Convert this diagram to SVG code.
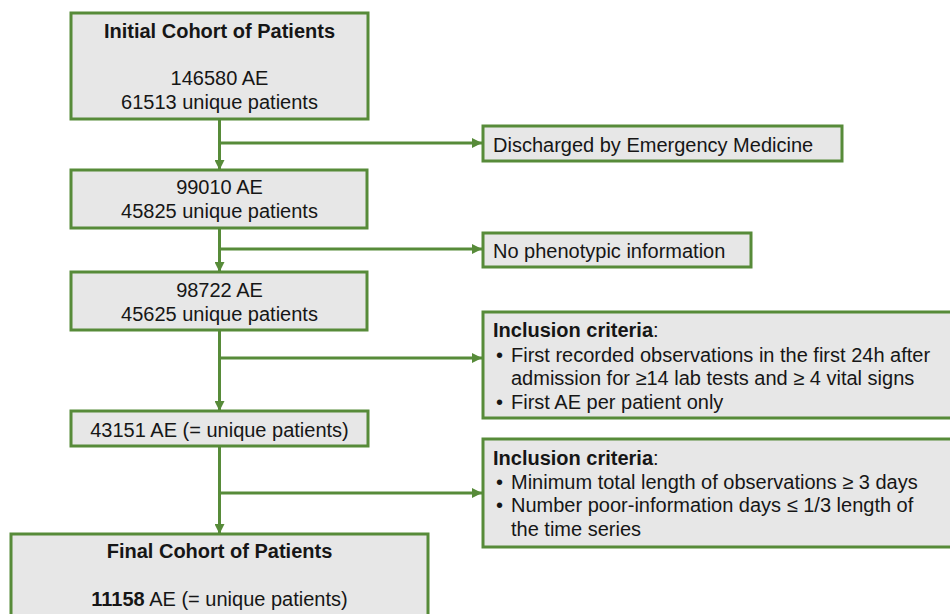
<svg xmlns="http://www.w3.org/2000/svg" width="950" height="614" viewBox="0 0 950 614">
<defs>
<style>
.box{fill:#e7e7e7;stroke:#578b39;stroke-width:3}
.ln{fill:none;stroke:#578b39;stroke-width:3}
text{font-family:"Liberation Sans",Arial,Helvetica,sans-serif;font-size:20px;fill:#161616}
.c{text-anchor:middle}
.b{font-weight:bold}
</style>
<marker id="ah" viewBox="0 0 10 10" refX="10" refY="5" markerWidth="10" markerHeight="10" markerUnits="userSpaceOnUse" orient="auto">
<path d="M0,0 L10,5 L0,10 z" fill="#578b39"/>
</marker>
</defs>
<rect width="950" height="614" fill="#ffffff"/>
<g id="connectors">
<line class="ln" x1="219.5" y1="119" x2="219.5" y2="170" marker-end="url(#ah)"/>
<line class="ln" x1="219.5" y1="143" x2="482" y2="143" marker-end="url(#ah)"/>
<line class="ln" x1="219.5" y1="228" x2="219.5" y2="272" marker-end="url(#ah)"/>
<line class="ln" x1="219.5" y1="249" x2="482" y2="249" marker-end="url(#ah)"/>
<line class="ln" x1="219.5" y1="330" x2="219.5" y2="411" marker-end="url(#ah)"/>
<line class="ln" x1="219.5" y1="358" x2="482" y2="358" marker-end="url(#ah)"/>
<line class="ln" x1="219.5" y1="446" x2="219.5" y2="534" marker-end="url(#ah)"/>
<line class="ln" x1="219.5" y1="493" x2="482" y2="493" marker-end="url(#ah)"/>
</g>
<g id="initial">
<rect class="box" x="71" y="13" width="297" height="106"/>
<text class="c b" x="219.5" y="38">Initial Cohort of Patients</text>
<text class="c" x="219.5" y="85">146580 AE</text>
<text class="c" x="219.5" y="109">61513 unique patients</text>
</g>
<g id="discharged">
<rect class="box" x="483" y="126" width="359" height="35"/>
<text x="493" y="151.5">Discharged by Emergency Medicine</text>
</g>
<g id="step2">
<rect class="box" x="71" y="170" width="296" height="58"/>
<text class="c" x="219.5" y="194">99010 AE</text>
<text class="c" x="219.5" y="218">45825 unique patients</text>
</g>
<g id="nopheno">
<rect class="box" x="483" y="233" width="268" height="34"/>
<text x="493" y="257.5">No phenotypic information</text>
</g>
<g id="step3">
<rect class="box" x="71" y="272" width="296" height="58"/>
<text class="c" x="219.5" y="297">98722 AE</text>
<text class="c" x="219.5" y="321">45625 unique patients</text>
</g>
<g id="incl1">
<rect class="box" x="483" y="312" width="480" height="106"/>
<text x="493" y="336.5"><tspan class="b">Inclusion criteria</tspan>:</text>
<text x="496" y="361.5">•</text>
<text x="511" y="361.5">First recorded observations in the first 24h after</text>
<text x="511" y="385">admission for ≥14 lab tests and ≥ 4 vital signs</text>
<text x="496" y="408.5">•</text>
<text x="511" y="408.5">First AE per patient only</text>
</g>
<g id="step4">
<rect class="box" x="71" y="411" width="297" height="35"/>
<text class="c" x="219.5" y="437">43151 AE (= unique patients)</text>
</g>
<g id="incl2">
<rect class="box" x="483" y="439" width="480" height="108"/>
<text x="493" y="465"><tspan class="b">Inclusion criteria</tspan>:</text>
<text x="496" y="488.5">•</text>
<text x="511" y="488.5">Minimum total length of observations ≥ 3 days</text>
<text x="496" y="512">•</text>
<text x="511" y="512">Number poor-information days ≤ 1/3 length of</text>
<text x="511" y="535.5">the time series</text>
</g>
<g id="final">
<rect class="box" x="11" y="534" width="417" height="100"/>
<text class="c b" x="219.5" y="558">Final Cohort of Patients</text>
<text class="c" x="219.5" y="606"><tspan class="b">11158</tspan> AE (= unique patients)</text>
</g>
</svg>
